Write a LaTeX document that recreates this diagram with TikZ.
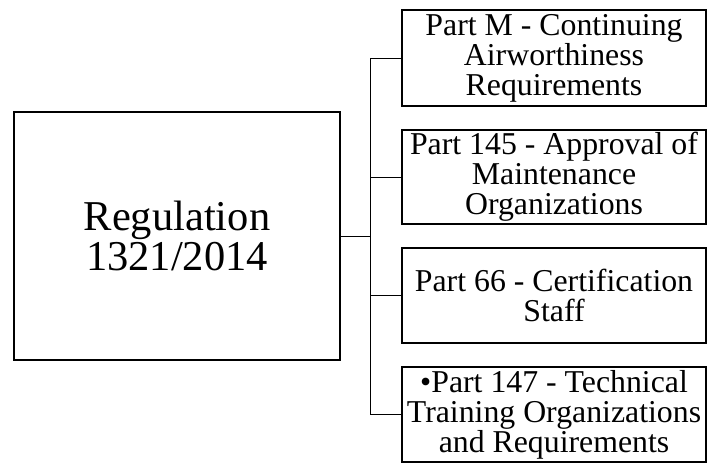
\documentclass[tikz,border=0pt]{standalone}
\usepackage{fontspec}
\setmainfont{Liberation Serif}
\begin{document}
\begin{tikzpicture}[x=1pt,y=-1pt,
  mainbox/.style={draw, line width=2pt, minimum width=326pt, minimum height=248pt, inner sep=0pt, align=center, font=\fontsize{42.5}{40}\selectfont},
  partbox/.style={draw, line width=2pt, minimum width=304pt, inner sep=0pt, align=center, font=\fontsize{31.8}{30}\selectfont},
  link/.style={line width=1pt}]
\useasboundingbox (0,0) rectangle (708,464);
\node[mainbox] (main) at (177,236) {Regulation\\1321/2014};
\node[partbox, minimum height=96pt] (c1) at (554,58) {Part M - Continuing\\Airworthiness\\Requirements};
\node[partbox, minimum height=94pt] (c2) at (554,177) {Part 145 - Approval of\\Maintenance\\Organizations};
\node[partbox, minimum height=95pt] (c3) at (554,295.5) {Part 66 - Certification\\Staff};
\node[partbox, minimum height=95pt] (c4) at (554,414.5) {•Part 147 - Technical\\Training Organizations\\and Requirements};
\coordinate (bus) at (370,236);
\draw[link] (main.east) -- (bus);
\draw[link] (bus |- c1.west) -- (bus |- c4.west);
\foreach \c in {c1,c2,c3,c4} \draw[link] (bus |- \c.west) -- (\c.west);
\end{tikzpicture}
\end{document}
